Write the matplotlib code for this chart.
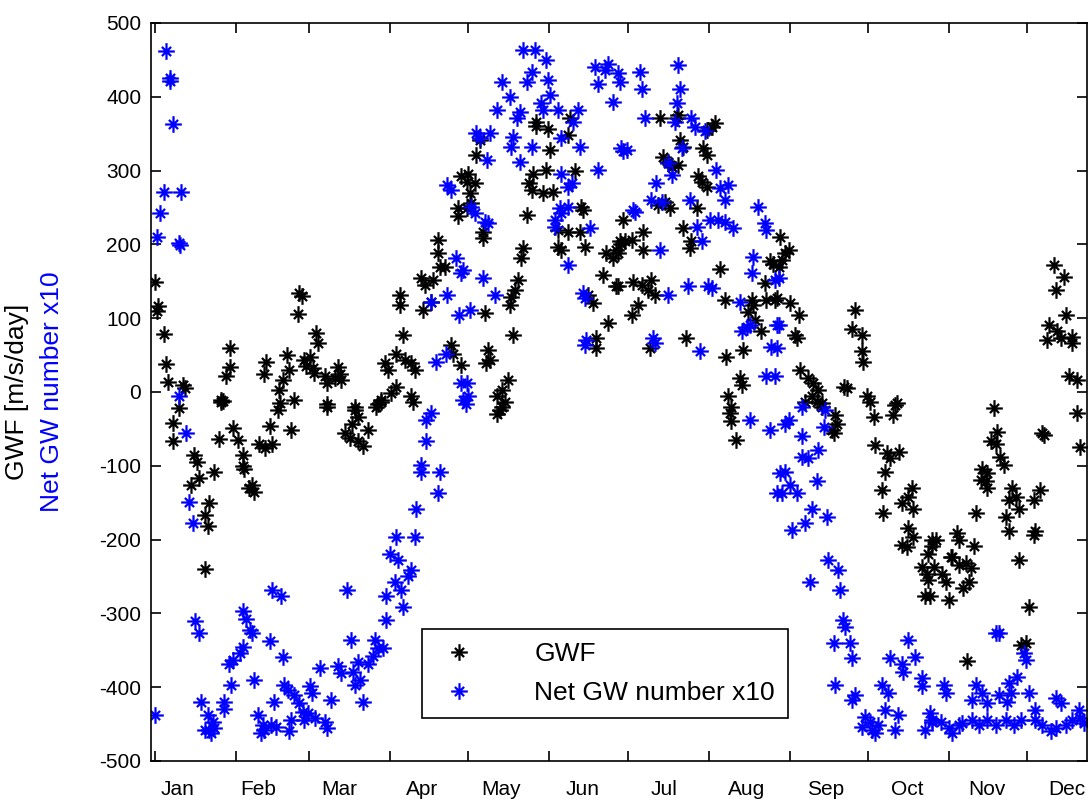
#GWF and net GW number through the year, MATLAB style scatter
import numpy as np
import matplotlib
matplotlib.use('Agg')
import matplotlib.pyplot as plt
from matplotlib.path import Path

plt.rcParams['font.family'] = ['Liberation Sans', 'DejaVu Sans']
plt.rcParams['axes.unicode_minus'] = False

#month labels, tick days (month starts) and label days
months = ['Jan', 'Feb', 'Mar', 'Apr', 'May', 'Jun', 'Jul', 'Aug', 'Sep', 'Oct', 'Nov', 'Dec']
month_start = [1, 32, 60, 91, 121, 152, 182, 213, 244, 274, 305, 335]
label_day = [9.8, 40.4, 71.7, 103.1, 133.7, 164.7, 196.0, 227.4, 257.6, 288.9, 319.5, 350.1]

#GWF [m/s/day], (day of year, value)
gwf = [
    (0.9,149),(2.1,116),(1.8,110),(4.3,79),(5.3,38),(6.2,14),(11.7,10),(12.5,6),(10.4,-22),(7.9,-42),
    (7.9,-67),(16.1,-85),(17,-95),(18,-117),(14.8,-126),(21.9,-151),(20,-167),(21.3,-182),(20,-240),
    (23.8,-108),(25.7,-64),(26.3,-11),(26.3,-13),(28.2,21),(29.6,34),(29.6,59),(27,-12),
    (30.8,-49),(32.7,-65),(34.7,-85),(34.7,-100),(35,-105),(37,-130),(38,-126),(39,-135),(41,-70),
    (43,-76),(46,-70),(44.9,-46),(48,-24),(48.7,3),(50,16),(52.5,30),(51.6,50),(54.2,-11),(53,-52),
    (43.6,40),(42.9,25),(56.3,134),(57.5,130),(55.7,105),(58.2,43),(59,35),(49,-15),
    (62.8,80),(63.5,66),(60.5,48),(61.5,33),(62,26),(66,21),(67,12),(71,34),(71.7,25),(69.8,19),
    (72.4,16),(67,-16),(77.5,-20),(67,-20),(77.5,-25),(78.9,-34),(76.3,-43),(73.7,-55),(75.6,-62),
    (80.6,-73),(78.9,-66),(82.6,-52),(85.8,-20),(87.7,-13),(87.7,-11),(86.4,-16),(89,39),(90.2,30),
    (93.4,7),(91.5,-2),(93.4,52),(96.6,43),(96,77),(99,39),(100.4,30),(99,-6),(99.7,-13),(94.7,131),
    (94.7,118),(103,154),(104.3,145),(107.5,152),(106.8,122),(103.6,111),(109.3,206),(109.3,188),
    (110,170),(112,170),(114.4,64),(115,52),(117,249),(117,238),(118,292),(118,36),
    (121,296),(120.3,285),(123.5,283),(121.6,269),(122.2,256),(120.3,249),(126.6,217),(126.6,208),
    (125.4,341),(124.1,321),(127.3,107),(128.6,57),(129.2,43),(127.9,39),(133,-25),(132,-30),
    (136.2,16),(133.7,3),(131.8,-6),(135,-13),(133.7,-20),(138,77),(140,152),(138.8,138),(137.5,129),
    (136.9,118),(141.9,195),(141.3,181),(143.3,240),(145.7,296),(144.4,283),(145.2,274),(149.6,269),
    (153.4,271),(147,360),(151.5,357),(147,366),(152.1,328),(150.9,301),
    (159.9,371),(159.2,348),(161.7,299),(164.3,251),(164.9,247),(155.3,220),(159.2,217),(163.6,217),
    (156.6,192),(155.3,197),(165.5,197),(166.8,131),(168.7,120),(170,73),(170,59),(173.8,188),
    (177.7,192),(179.6,201),(176.4,181),(172.6,159),(177.7,143),(174.4,93),
    (180.3,233),(188,217),(179,204),(180.9,204),(183.5,206),(178.4,188),(188,192),(178.4,143),
    (184.1,149),(187.3,145),(191.1,152),(189.9,138),(192.5,131),(186.1,118),(183.5,104),(190.5,59),
    (194.4,371),(200.7,371),(201.4,375),(202,341),(203.3,332),(195.6,319),(197.6,312),(201.4,307),
    (198.8,305),(193.7,253),(198.1,249),(196.3,258),(203.3,222),(206.4,204),(205.8,195),(204.5,73),
    (208.4,249),(208.9,292),(210.3,285),(212.2,278),(210.9,330),(212.2,321),(215.3,364),(214.1,359),
    (212.2,355),
    (217.2,167),(219.2,125),(219.8,48),(226.2,57),(225,19),(225.6,10),(220.5,-6),(221.7,-20),
    (221.1,-29),(221.7,-40),(223.6,-65),(236.4,178),(237.7,174),(234.5,147),(235.1,125),(238.3,125),
    (229.4,125),(230.1,118),(228.1,109),(230.7,98),(233.2,82),(240.4,210),(243.6,192),(242.4,188),
    (241.1,179),(239.8,170),(239.1,127),
    (244.2,120),(247.4,104),(246.1,77),(246.8,73),(248,30),(251.2,19),(253.1,12),(255,3),(252.5,-6),
    (256.3,-15),(250,-13),(254.3,-13),(256.3,-20),(261.4,-31),(262,-43),(260.1,-52),(260.8,-56),
    (264.7,7),(266,5),(269,111),(267.8,86),(271.6,77),(271.6,55),(272.2,41),(273.7,-6),(274.8,-13),
    (276.1,-34),(284.4,-18),(283.7,-31),(285.1,-15),(276.7,-72),(281.2,-83),(282.5,-90),(285.7,-81),
    (280.5,-108),(279.2,-133),(279.9,-164),(290.7,-130),(286.9,-151),(291.3,-158),(289.4,-142),
    (289.4,-185),(291.3,-196),(286.9,-207),(288.8,-210),(298.3,-200),(297.1,-219),(294.5,-237),
    (296.4,-246),(297.1,-255),(295.8,-277),
    (299.9,-200),(298.6,-209),(299.2,-237),(302.4,-246),(303.7,-257),(297.9,-277),(304.9,-282),
    (305.6,-223),(308.8,-234),(311.4,-232),(308.2,-191),(308.8,-200),(314.6,-209),(306.3,-223),
    (313.3,-239),(312.7,-257),(310.2,-266),(312,-365),(315.2,-164),(317.7,-105),(319.6,-110),
    (319,-121),(317.1,-119),(319.6,-130),(322.2,-22),(323.5,-54),(322.8,-70),(320.9,-67),(324.7,-88),
    (326,-99),(329.2,-130),(330.5,-142),(328,-146),(331.8,-158),(326.7,-169),(328,-189),(331.8,-228),
    (337.5,-146),(340,-133),(338.1,-189),(337.5,-194),(335.6,-291),(332.4,-343),(334.4,-340),
    (340.5,-56),(341.2,-58),(345.2,172),(349,156),(345.8,138),(349.6,104),(343.3,91),(346.4,82),
    (342.6,70),(347.7,73),(352.1,75),(352.1,66),(350.9,21),(354.1,16),(354.1,-29),(355.3,-74),
]

#Net GW number x10, (day of year, value)
netgw = [
    (5.3,462),(6.6,421),(6.8,425),(7.9,363),(4.3,271),(11,271),(3,243),(1.9,210),(10.4,202),(10.8,199),
    (10.4,-6),(13,-56),(14.2,-149),(15.5,-178),(16.2,-311),(18,-327),(0.9,-438),(18.7,-420),(21.3,-438),
    (23.2,-447),(23.8,-456),(21.9,-458),(20,-458),(22.5,-462),(27.6,-420),(27.6,-429),(30.2,-397),
    (29.5,-368),(30.8,-363),
    (33.4,-354),(34.7,-345),(34.7,-297),(36,-307),(37.5,-322),(38,-327),(39,-390),(44.9,-338),(46,-268),
    (49.3,-277),(50,-359),(40.4,-438),(42.3,-451),(42.9,-458),(45.5,-451),(41.6,-462),(47.4,-454),
    (52.4,-460),(53.1,-444),(51.9,-404),(54.4,-411),(56.3,-422),(57.6,-433),(58.2,-444),(50.5,-397),
    (46.7,-420),
    (59.6,-435),(62.2,-442),(66,-447),(66.7,-456),(60.3,-399),(61,-408),(68.5,-417),(80.6,-420),
    (64.1,-374),(71,-372),(72.4,-381),(78.9,-366),(77,-379),(77.5,-397),(79.4,-390),(76.2,-336),
    (85.1,-336),(86.4,-347),(84.4,-358),(82.6,-368),(88.3,-347),(74.4,-268),(89.6,-309),
    (92.8,-257),(89.6,-277),(95.3,-268),(96,-291),(90.9,-219),(94,-228),(99.2,-241),(97.9,-250),
    (93.4,-196),(100.4,-196),(101,-158),(109.3,-137),(103,-99),(103,-108),(110,-108),(104.8,-67),
    (106.8,-29),(104.8,-38),(108.6,41),(112.5,52),(113,131),(106.8,122),(117.6,104),(118,12),(119,-11),
    (116.4,181),(118,161),(113,280),(114.4,274),
    (120,-16),(120.3,12),(121,-6),(119,165),(126.6,154),(131.1,131),(121.6,111),(122.2,251),(123.5,242),
    (127.3,231),(128.6,229),(128,314),(124,351),(129.2,351),(125.4,344),(131.8,382),(140.7,380),
    (139.5,371),(138,346),(137.5,332),(145.2,332),(140.7,312),(133.7,420),(136.9,400),(145.2,434),
    (143.3,420),(141.9,463),(146.4,463),(150.9,450),(151.5,423),(152.1,402),(148.9,391),(149.6,382),
    (155.3,382),(163,382),(161,366),(156.6,344),(163.6,332),(156.6,296),(160.5,283),(159.2,278),
    (156,249),(154.1,233),(154.1,224),(156.6,242),(159.2,251),(167.5,222),(159.2,172),(164.9,134),
    (165.5,127),(166.2,70),(165.5,64),(170.6,301),(174.4,445),(173.2,436),(169.3,441),(170.6,418),
    (176.4,393),(178.9,420),(179.6,330),
    (178.4,432),(186.7,434),(187.3,411),(180.3,326),(181.6,328),(188.6,371),(201.4,443),(202,411),
    (200.7,391),(200.1,366),(206.4,371),(207.7,359),(211.5,353),(197.6,310),(202.7,330),(198.8,294),
    (193,283),(191.1,260),(184.1,247),(184.7,244),(195,258),(205.8,260),(208.4,224),(213.5,233),
    (210.3,204),(194.4,192),(197.6,131),(205.2,143),(212.9,143),(191.8,73),(192.5,66),(209.6,55),
    (215.9,301),(217.2,276),(220.5,280),(219.2,260),(216.7,233),(214.1,141),(219.2,231),(222.4,222),
    (225,122),(232,251),(234.5,229),(235.1,220),(230.1,183),(229.4,161),(238.3,152),(225.6,82),
    (227.5,88),(228.8,91),(239,91),(237,61),(235.1,21),(228.8,-38),(236.4,-52),(240.3,-110),(239,-137),
    (239.8,154),(239.8,91),(239.1,59),(238.5,21),
    (243.6,-38),(242.3,-43),(248.7,-20),(257.7,-25),(257,-47),(255,-79),(251.2,-90),(248.7,-88),
    (248.7,-59),(242.3,-108),(244.2,-126),(241,-137),(246.8,-137),(254.3,-120),(252.5,-158),(250,-178),
    (244.8,-187),(258.2,-169),(258.8,-228),(262.6,-241),(251.9,-257),(263.3,-268),(264.6,-309),
    (265.3,-318),(260.8,-340),(267.2,-340),(267.8,-361),(261.4,-397),(269,-411),(267.8,-417),
    (272.9,-440),(274.8,-447),(271.6,-454),
    (275.4,-458),(276.7,-462),(278,-451),(279.2,-397),(281.8,-408),(280.5,-431),(285.6,-438),
    (284.4,-458),(282.5,-361),(286.9,-368),(289.4,-336),(292,-359),(287.5,-379),(294.5,-388),
    (294.5,-399),(297.7,-435),(295.8,-458),(298.3,-447),
    (298.6,-444),(301.8,-447),(305,-456),(306.3,-462),(308.8,-451),(310.1,-449),(313.9,-444),
    (316.5,-451),(319.6,-444),(322.8,-451),(326.7,-444),(329.9,-451),(332.4,-444),(338.1,-444),
    (340.7,-451),(343.9,-460),(345.8,-456),(349.6,-451),(352.1,-444),(355.3,-442),(356.6,-449),
    (303,-397),(303.7,-408),(315.2,-397),(317.7,-408),(313.9,-417),(319.6,-422),(324.1,-410),
    (327.9,-395),(331.1,-386),(328.6,-408),(327.3,-420),(335.6,-408),(345.8,-415),(347.7,-422),
    (338.1,-431),(354.7,-431),(322.8,-327),(324.1,-327),(333.7,-354),(334.4,-363),
]

gwf = np.array(gwf)
netgw = np.array(netgw)

#MATLAB like asterisk: long plus arms and short diagonals
d = 0.55
star = Path([(-1, 0), (1, 0), (0, -1), (0, 1), (-d, -d), (d, d), (-d, d), (d, -d)],
            [Path.MOVETO, Path.LINETO] * 4)

fig = plt.figure(figsize=(10.9, 8.01), dpi=100)
ax = fig.add_axes([0.1385, 0.05, 0.8587, 0.9213])

ax.plot(gwf[:, 0], gwf[:, 1], linestyle='none', marker=star, ms=12, mew=1.6,
        color='black', mfc='none', label='GWF')
ax.plot(netgw[:, 0], netgw[:, 1], linestyle='none', marker=star, ms=12, mew=1.6,
        color='#0000ff', mfc='none', label='Net GW number x10')

#axes limits and ticks
ax.set_xlim(-0.5, 357.8)
ax.set_ylim(-500, 500)
ax.set_yticks(np.arange(-500, 501, 100))
ax.set_xticks(month_start)
ax.set_xticklabels([])
ax.set_xticks(label_day, minor=True)
ax.set_xticklabels(months, minor=True)
ax.tick_params(which='major', direction='in', top=True, right=True, length=7, width=1.2,
               labelsize=15, pad=7)
ax.tick_params(which='minor', length=0, labelsize=15, pad=14)
for s in ax.spines.values():
    s.set_linewidth(1.2)

#two coloured y labels
fig.text(0.016, 0.511, 'GWF [m/s/day]', rotation=90, ha='center', va='center', fontsize=19, color='black')
fig.text(0.048, 0.511, 'Net GW number x10', rotation=90, ha='center', va='center', fontsize=19, color='#0000ff')

leg = ax.legend(loc='lower left', bbox_to_anchor=(0.29, 0.058), borderaxespad=0, fontsize=19,
                fancybox=False, edgecolor='black', framealpha=1, numpoints=1,
                handlelength=1.8, handletextpad=1.94, borderpad=0.5, labelspacing=0.55)
leg.get_frame().set_linewidth(1.2)

plt.savefig('out.png', dpi=100)
